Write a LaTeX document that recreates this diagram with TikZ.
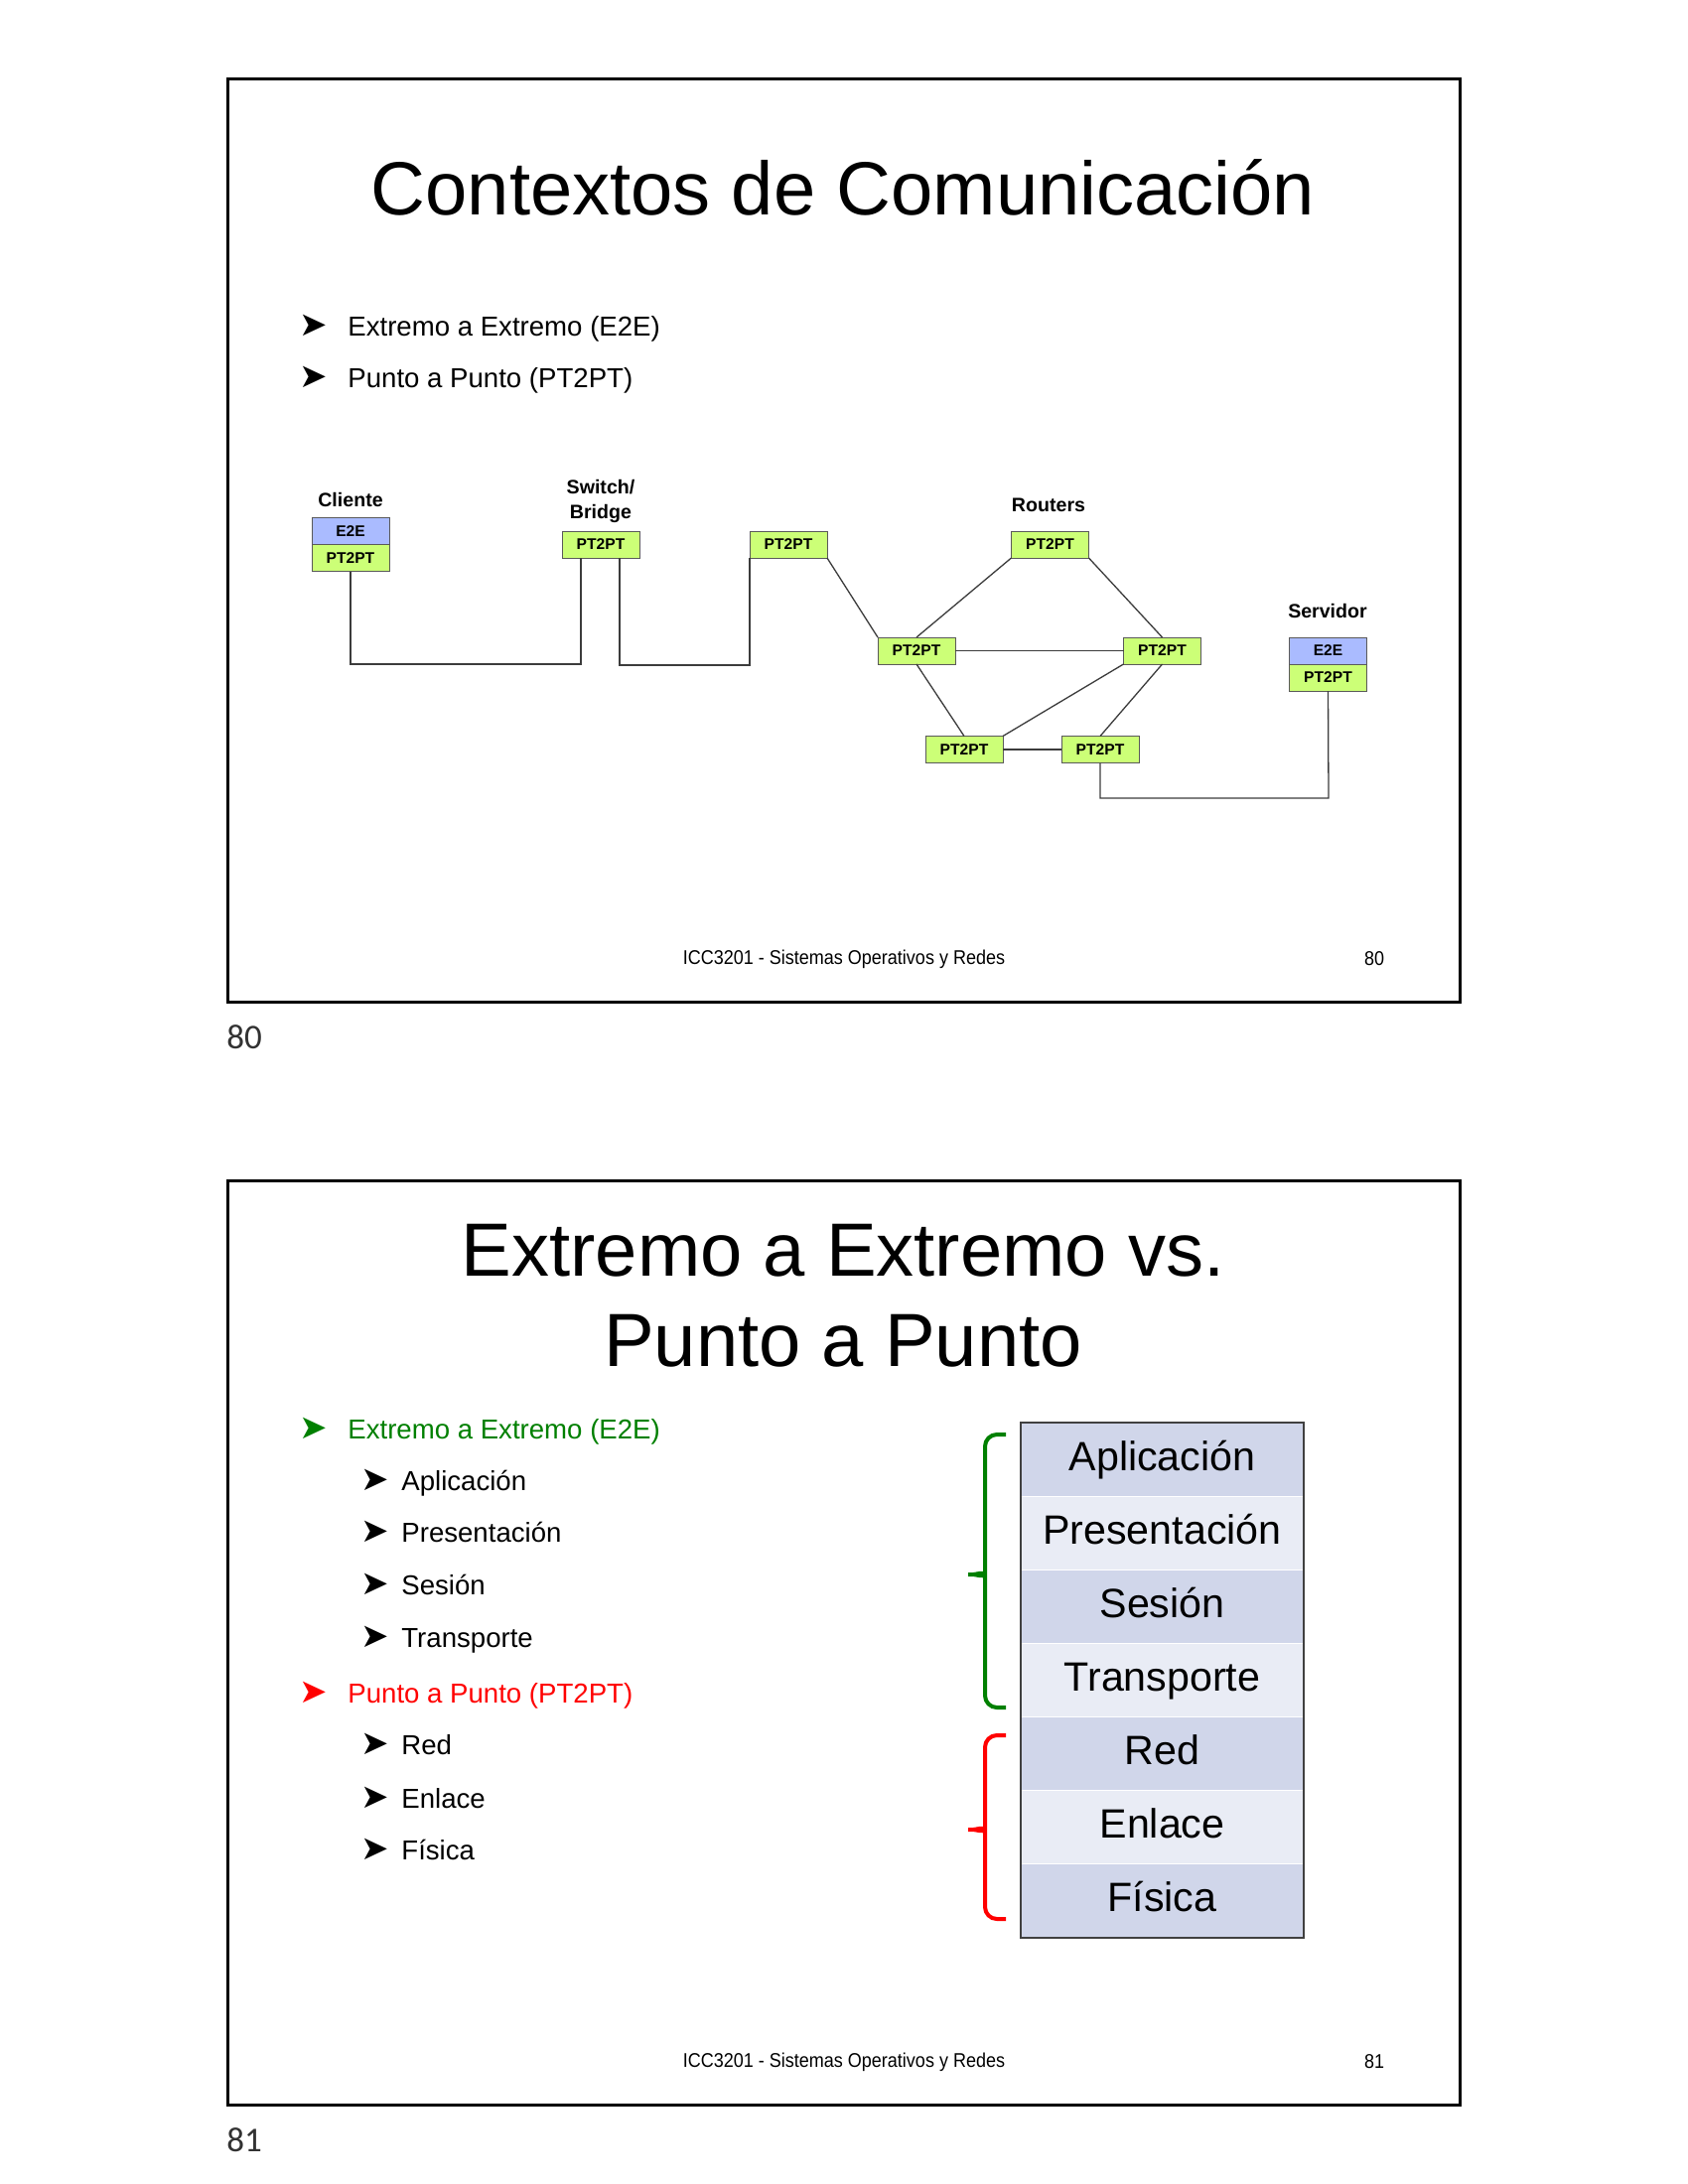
\documentclass[tikz,border=0pt]{standalone}
\usepackage{fontspec}
\setmainfont{Liberation Sans}
\newfontfamily\narrowfont[FakeStretch=0.9]{Liberation Sans}
\newfontfamily\symfont{DejaVu Sans}
\newfontfamily\pagefont{Carlito}
\usetikzlibrary{calc}

\definecolor{e2eblue}{RGB}{170,187,255}
\definecolor{ptgreen}{RGB}{204,255,119}
\definecolor{boxedge}{RGB}{90,90,90}
\definecolor{wirecol}{RGB}{60,60,60}
\definecolor{laydark}{RGB}{208,214,234}
\definecolor{laylight}{RGB}{233,236,245}
\definecolor{okgreen}{RGB}{0,128,0}
\definecolor{hotred}{RGB}{255,0,0}
\definecolor{pagegray}{RGB}{50,50,50}

\begin{document}
\begin{tikzpicture}[x=0.5pt,y=-0.5pt,
  slideframe/.style={draw=black,line width=1.5pt},
  slidetitle/.style={anchor=base,inner sep=0,font=\fontsize{38}{44}\selectfont},
  bullettext/.style={anchor=base west,inner sep=0,font=\fontsize{13.8}{16}\selectfont},
  bulletmark/.style={inner sep=0,font=\symfont\fontsize{17}{18}\selectfont},
  footer/.style={inner sep=0,font=\narrowfont\fontsize{10}{12}\selectfont},
  unit/.style={draw=boxedge,line width=0.5pt,minimum width=39pt,minimum height=13.5pt,
    inner sep=0,outer sep=0,font=\bfseries\fontsize{7.8}{9}\selectfont},
  e2e/.style={unit,fill=e2eblue},
  pt/.style={unit,fill=ptgreen},
  devlabel/.style={inner sep=0,align=center,font=\bfseries\fontsize{9.8}{12.5}\selectfont},
  wire/.style={draw=wirecol,line width=0.65pt},
  layer/.style={minimum width=142.5pt,minimum height=37.07pt,inner sep=0,outer sep=0,
    text height=15.5pt,text depth=4.5pt,
    draw=white,line width=0.6pt,font=\fontsize{20.6}{24}\selectfont},
  brace/.style={line width=2pt,rounded corners=6pt},
  pagenum/.style={inner sep=0,text=pagegray,font=\pagefont\fontsize{17.5}{20}\selectfont}
]
\useasboundingbox[fill=white] (0,0) rectangle (1700,2200);

% ---------------- first slide ----------------
\draw[slideframe] (229,79) rectangle (1470,1009);
\node[slidetitle] (t1) at (849,216) {Contextos de Comunicación};

\node[bulletmark] (b1) at (316,328) {➤};
\node[bullettext] (b1t) at (350,338) {Extremo a Extremo (E2E)};
\node[bulletmark] (b2) at (316,380) {➤};
\node[bullettext] (b2t) at (350,390) {Punto a Punto (PT2PT)};

% devices
\node[e2e] (cliE) at (353,535) {E2E};
\node[pt, anchor=north] (cliP) at (cliE.south) {PT2PT};
\node[devlabel] (cliL) at (353,503) {Cliente};

\node[pt] (sw) at (605,548.5) {PT2PT};
\node[devlabel] (swL) at (605,504.5) {Switch/\\Bridge};

\node[pt] (hop) at (794,548.5) {PT2PT};

\node[pt] (rt) at (1057.5,548.5) {PT2PT};
\node[devlabel] (rtL) at (1056,509) {Routers};
\node[pt] (rl) at (923,655.5) {PT2PT};
\node[pt] (rr) at (1170.5,655.5) {PT2PT};
\node[pt] (rbl) at (971,755) {PT2PT};
\node[pt] (rbr) at (1108,755) {PT2PT};

\node[e2e] (srvE) at (1337.5,655.5) {E2E};
\node[pt, anchor=north] (srvP) at (srvE.south) {PT2PT};
\node[devlabel] (srvL) at (1337,615) {Servidor};

% links
\coordinate (j1) at (585,669);
\coordinate (j2) at (624,670);
\coordinate (j3) at (1338,804);
\draw[wire] (cliP.south) |- (j1) -- (j1 |- sw.south);
\draw[wire] (j2 |- sw.south) -- (j2) -| (hop.south west);
\draw[wire] (hop.south east) -- (rl.north west);
\draw[wire] (rt.south west) -- (rl.north);
\draw[wire] (rt.south east) -- (rr.north);
\draw[wire] (rl.east) -- (rr.west);
\draw[wire] (rl.south) -- (rbl.north);
\draw[wire] (rr.south west) -- (rbl.north east);
\draw[wire] (rr.south) -- (rbr.north);
\draw[wire] (rbl.east) -- (rbr.west);
\draw[wire] (rbr.south) |- (j3) -- (srvP.south);

\node[footer] (f1) at (850,966) {ICC3201 - Sistemas Operativos y Redes};
\node[footer] (n1) at (1384,966) {80};
\node[pagenum] (p1) at (246,1045) {80};

% ---------------- second slide ----------------
\draw[slideframe] (229,1189) rectangle (1470,2120);
\node[slidetitle] (t2a) at (849,1285) {Extremo a Extremo vs.};
\node[slidetitle] (t2b) at (849,1376) {Punto a Punto};

\node[bulletmark, text=okgreen] (m0) at (316,1439) {➤};
\node[bullettext, text=okgreen] (m0t) at (350,1449) {Extremo a Extremo (E2E)};
\node[bulletmark] (m1) at (378,1491) {➤};
\node[bullettext] (m1t) at (404,1501) {Aplicación};
\node[bulletmark] (m2) at (378,1543) {➤};
\node[bullettext] (m2t) at (404,1553) {Presentación};
\node[bulletmark] (m3) at (378,1596) {➤};
\node[bullettext] (m3t) at (404,1606) {Sesión};
\node[bulletmark] (m4) at (378,1649) {➤};
\node[bullettext] (m4t) at (404,1659) {Transporte};
\node[bulletmark, text=hotred] (m5) at (316,1705) {➤};
\node[bullettext, text=hotred] (m5t) at (350,1715) {Punto a Punto (PT2PT)};
\node[bulletmark] (m6) at (378,1757) {➤};
\node[bullettext] (m6t) at (404,1767) {Red};
\node[bulletmark] (m7) at (378,1811) {➤};
\node[bullettext] (m7t) at (404,1821) {Enlace};
\node[bulletmark] (m8) at (378,1863) {➤};
\node[bullettext] (m8t) at (404,1873) {Física};

% layer stack
\node[layer, fill=laydark]  (l1) at (1170.5,1470.1) {Aplicación};
\node[layer, fill=laylight] (l2) at (1170.5,1544.2) {Presentación};
\node[layer, fill=laydark]  (l3) at (1170.5,1618.4) {Sesión};
\node[layer, fill=laylight] (l4) at (1170.5,1692.5) {Transporte};
\node[layer, fill=laydark]  (l5) at (1170.5,1766.6) {Red};
\node[layer, fill=laylight] (l6) at (1170.5,1840.8) {Enlace};
\node[layer, fill=laydark]  (l7) at (1170.5,1914.9) {Física};
\draw[draw=black!75,line width=0.9pt] (l1.north west) rectangle (l7.south east);

% braces
\draw[brace, okgreen] (1013,1445) -- (992,1445) -- (992,1574)
  .. controls (992,1583) and (982,1586) .. (968,1586)
  .. controls (982,1586) and (992,1589) .. (992,1598)
  -- (992,1720) -- (1013,1720);
\draw[brace, hotred] (1013,1748) -- (992,1748) -- (992,1831)
  .. controls (992,1840) and (982,1843) .. (968,1843)
  .. controls (982,1843) and (992,1846) .. (992,1855)
  -- (992,1933) -- (1013,1933);

\node[footer] (f2) at (850,2077) {ICC3201 - Sistemas Operativos y Redes};
\node[footer] (n2) at (1384,2077) {81};
\node[pagenum] (p2) at (246,2156) {81};
\end{tikzpicture}
\end{document}
